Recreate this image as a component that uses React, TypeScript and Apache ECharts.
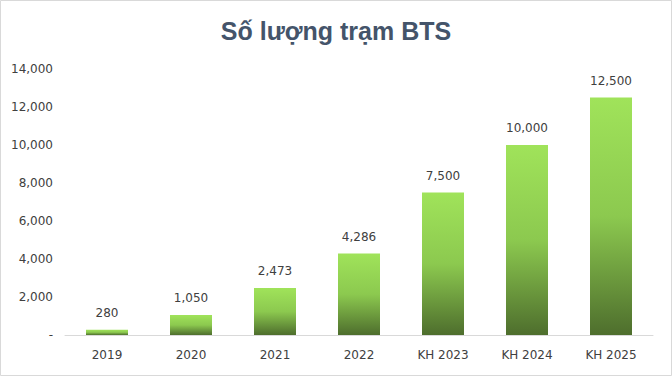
import React, { useEffect, useRef } from "react";
import * as echarts from "echarts";

const title = "Số lượng trạm BTS";
const categories = ["2019", "2020", "2021", "2022", "KH 2023", "KH 2024", "KH 2025"];
const values = [280, 1050, 2473, 4286, 7500, 10000, 12500];
const yTicks = [0, 2000, 4000, 6000, 8000, 10000, 12000, 14000];

const fmt = (v: number) => (v === 0 ? "-" : v.toLocaleString("en-US"));

export default function App() {
  const ref = useRef<HTMLDivElement>(null);
  useEffect(() => {
    if (!ref.current) return;
    const chart = echarts.init(ref.current, null, { renderer: "svg" });
    const font = "DejaVu Sans";
    chart.setOption({
      animation: false,
      backgroundColor: "#ffffff",
      title: {
        text: title,
        left: "center",
        top: 13,
        textStyle: {
          fontFamily: "Liberation Sans",
          fontSize: 25,
          fontWeight: "bold",
          color: "#44546A",
        },
      },
      graphic: [
        {
          type: "rect",
          shape: { x: 0.5, y: 0.5, width: 671, height: 375 },
          style: { fill: "none", stroke: "#d9d9d9", lineWidth: 1 },
          silent: true,
          z: 100,
        },
      ],
      grid: { left: 65, right: 19, top: 69, bottom: 41, containLabel: false },
      xAxis: {
        type: "category",
        data: categories,
        axisLine: { show: true, lineStyle: { color: "#d9d9d9", width: 1 } },
        axisTick: { show: false },
        axisLabel: {
          fontFamily: font,
          fontSize: 12,
          color: "#404040",
          margin: 14,
        },
      },
      yAxis: {
        type: "value",
        min: yTicks[0],
        max: yTicks[yTicks.length - 1],
        interval: 2000,
        splitLine: { show: false },
        axisLine: { show: false },
        axisTick: { show: false },
        axisLabel: {
          fontFamily: font,
          fontSize: 12,
          color: "#404040",
          margin: 12,
          formatter: (v: number) => fmt(v),
        },
      },
      series: [
        {
          type: "bar",
          data: values,
          barWidth: "50%",
          itemStyle: {
            color: new echarts.graphic.LinearGradient(0, 0, 0, 1, [
              { offset: 0, color: "#A0E35A" },
              { offset: 0.5, color: "#8CC94F" },
              { offset: 1, color: "#4E6E2D" },
            ]),
          },
          label: {
            show: true,
            position: "top",
            distance: 11,
            fontFamily: font,
            fontSize: 12,
            color: "#404040",
            formatter: (p: any) => fmt(p.value),
          },
        },
      ],
    });
    return () => chart.dispose();
  }, []);
  return (
    <div
      ref={ref}
      style={{ position: "absolute", left: 0, top: 0, width: 672, height: 376 }}
    />
  );
}
